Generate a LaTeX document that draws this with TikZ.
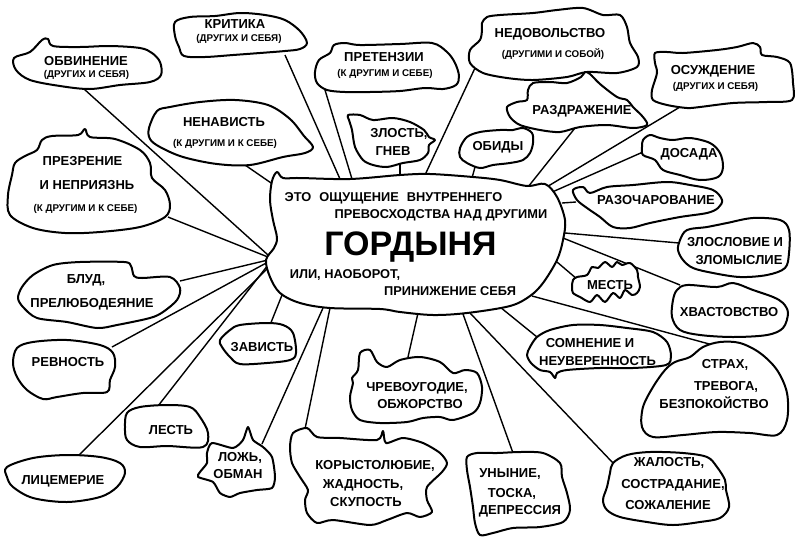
\documentclass[tikz,border=0pt]{standalone}
\usepackage{fontspec}
\setmainfont{Liberation Sans}
\begin{document}
\begin{tikzpicture}[x=1pt,y=-1pt,
  blob/.style={draw=black, line width=2pt, fill=white, line join=round},
  link/.style={draw=black, line width=1.4pt},
  t/.style={font=\bfseries\fontsize{13}{15}\selectfont, inner sep=0pt, anchor=base},
  s/.style={font=\bfseries\fontsize{9.8}{12}\selectfont, inner sep=0pt, anchor=base},
  hd/.style={font=\bfseries\fontsize{12.8}{15}\selectfont, inner sep=0pt, anchor=base},
  big/.style={font=\bfseries\fontsize{34}{40}\selectfont, inner sep=0pt, anchor=base}]
\useasboundingbox (0,0) rectangle (800,544);
\fill[white] (0,0) rectangle (800,544);

% ---------- connector end points ----------
\coordinate (obv-e) at (84,89);   \coordinate (obv-c) at (268,255);
\coordinate (krit-e) at (285,55); \coordinate (krit-c) at (340,179);
\coordinate (pret-e) at (325,90); \coordinate (pret-c) at (352,179);
\coordinate (nen-e) at (245,165); \coordinate (nen-c) at (274,185);
\coordinate (zlo-e) at (400,164); \coordinate (zlo-c) at (400,176);
\coordinate (ned-e) at (475,68);  \coordinate (ned-c) at (425,175);
\coordinate (obid-e) at (475,167); \coordinate (obid-c) at (472,178);
\coordinate (razd-e) at (575,128); \coordinate (razd-c) at (528,187);
\coordinate (osu-e) at (680,107); \coordinate (osu-c) at (545,188);
\coordinate (dos-e) at (643,152); \coordinate (dos-c) at (550,193);
\coordinate (razo-e) at (576,202); \coordinate (razo-c) at (562,203);
\coordinate (zlosl-e) at (679,243); \coordinate (zlosl-c) at (565,233);
\coordinate (hvast-e) at (680,285); \coordinate (hvast-c) at (563,238);
\coordinate (mest-e) at (577,279); \coordinate (mest-c) at (557,262);
\coordinate (strah-e) at (713,345); \coordinate (strah-c) at (532,296);
\coordinate (somn-e) at (537,337); \coordinate (somn-c) at (500,307);
\coordinate (zhal-e) at (613,463); \coordinate (zhal-c) at (470,313);
\coordinate (uny-e) at (513,453); \coordinate (uny-c) at (463,314);
\coordinate (chrev-e) at (408,357); \coordinate (chrev-c) at (418,313);
\coordinate (kor-e) at (305,429); \coordinate (kor-c) at (330,308);
\coordinate (lozh-e) at (262,444); \coordinate (lozh-c) at (323,308);
\coordinate (zav-e) at (270,325); \coordinate (zav-c) at (282,295);
\coordinate (lic-e) at (78,456);  \coordinate (lic-c) at (268,268);
\coordinate (lest-e) at (158,406); \coordinate (lest-c) at (268,265);
\coordinate (revn-e) at (112,347); \coordinate (revn-c) at (268,262);
\coordinate (blud-e) at (180,281); \coordinate (blud-c) at (268,260);
\coordinate (prez-e) at (168,217); \coordinate (prez-c) at (268,257);

\foreach \n in {obv,krit,pret,nen,zlo,ned,obid,razd,osu,dos,razo,zlosl,hvast,mest,strah,somn,zhal,uny,chrev,kor,lozh,zav,lic,lest,revn,blud,prez}
  \draw[link] (\n-e) -- (\n-c);

% ---------- blobs ----------
% centre
\draw[blob] plot[smooth cycle, tension=0.55] coordinates {(270,200) (272,181) (277,172) (283,178) (300,178) (350,179) (400,175) (430,174) (473,177) (500,180) (527,186) (545,184) (557,197) (565,220) (563,240) (557,260) (543,283) (530,296) (510,306) (467,313) (433,315) (400,312) (380,309) (330,308) (300,303) (280,293) (270,277) (266,260) (274,248) (277,238) (273,220)};
% obvinenie
\draw[blob] plot[smooth cycle, tension=0.55] coordinates {(14,58) (30,52) (42,40) (48,39) (53,46) (80,47) (110,46) (140,48) (152,53) (160,62) (161,75) (150,82) (120,85) (90,89) (60,86) (30,80) (16,70)};
% kritika
\draw[blob] plot[smooth cycle, tension=0.55] coordinates {(175,22) (190,17) (215,16) (240,13) (265,15) (285,20) (300,31) (307,43) (300,49) (285,51) (260,53) (233,55) (205,57) (184,56) (179,47) (175,36)};
% pretenzii
\draw[blob] plot[smooth cycle, tension=0.55] coordinates {(315,72) (319,60) (330,53) (334,45) (345,43) (360,45) (400,44) (432,43) (447,52) (455,63) (459,76) (456,85) (443,89) (425,88) (400,91) (370,92) (345,92) (327,90) (317,83)};
% nenavist
\draw[blob] plot[smooth cycle, tension=0.55] coordinates {(149,128) (157,111) (170,107) (200,102) (235,100) (268,105) (290,119) (304,136) (313,147) (305,153) (283,157) (250,165) (217,164) (183,157) (160,147) (150,139)};
% prezrenie
\draw[blob] plot[smooth cycle, tension=0.55] coordinates {(12,175) (15,163) (25,156) (37,150) (42,140) (52,136) (78,135) (85,129) (90,137) (115,139) (140,150) (150,163) (152,178) (165,190) (170,205) (165,217) (140,227) (100,232) (65,233) (33,228) (10,215) (8,195)};
% blud
\draw[blob] plot[smooth cycle, tension=0.5] coordinates {(18,298) (22,287) (33,275) (53,265) (80,262) (124,262) (131,266) (134,276) (142,278) (170,277) (180,288) (177,300) (163,312) (150,318) (117,325) (97,328) (67,322) (37,318) (23,307)};
% revnost
\draw[blob] plot[smooth cycle, tension=0.55] coordinates {(17,348) (33,342) (67,340) (100,345) (113,353) (115,367) (110,380) (107,392) (83,393) (57,397) (43,399) (27,390) (17,377) (13,363)};
% lest
\draw[blob] plot[smooth cycle, tension=0.55] coordinates {(127,413) (140,407) (167,405) (190,407) (200,417) (208,433) (203,447) (167,446) (140,447) (127,440) (125,427)};
% licemerie
\draw[blob] plot[smooth cycle, tension=0.55] coordinates {(7,467) (33,458) (67,455) (100,457) (120,463) (125,473) (117,487) (100,497) (67,502) (33,498) (13,487) (7,477)};
% zavist
\draw[blob] plot[smooth cycle, tension=0.55] coordinates {(220,340) (230,330) (240,325) (267,323) (283,325) (293,333) (296,353) (290,360) (267,363) (240,364) (230,357) (222,347)};
% lozh
\draw[blob] plot[smooth cycle, tension=0.4] coordinates {(207,453) (212,443) (233,448) (243,440) (248,427) (253,440) (263,447) (272,457) (275,477) (272,488) (257,490) (240,493) (230,497) (220,493) (213,482) (198,477) (200,472) (207,463)};
% korystolubie
\draw[blob] plot[smooth cycle, tension=0.45] coordinates {(293,433) (307,428) (317,437) (340,438) (377,440) (383,431) (386,443) (403,438) (423,443) (440,453) (447,463) (442,472) (427,487) (427,500) (432,512) (420,517) (407,513) (387,520) (370,525) (333,520) (317,523) (307,513) (305,500) (308,490) (300,477) (292,463) (290,447)};
% chrevougodie
\draw[blob] plot[smooth cycle, tension=0.5] coordinates {(360,353) (370,350) (377,362) (387,367) (400,360) (420,357) (440,362) (453,373) (465,370) (477,373) (482,387) (480,403) (473,413) (453,420) (440,417) (423,418) (407,422) (380,423) (360,420) (352,410) (350,397) (353,383) (352,378) (358,370)};
% unynie
\draw[blob] plot[smooth cycle, tension=0.5] coordinates {(467,457) (477,453) (497,453) (520,452) (543,453) (560,463) (562,477) (567,493) (570,510) (563,522) (540,527) (513,528) (493,533) (480,535) (475,523) (473,507) (470,487) (467,470)};
% zhalost
\draw[blob] plot[smooth cycle, tension=0.55] coordinates {(613,463) (627,455) (650,452) (683,453) (707,457) (717,467) (725,480) (726,490) (729,507) (720,518) (700,522) (673,525) (647,522) (620,517) (607,510) (603,500) (607,487) (610,473)};
% somnenie
\draw[blob] plot[smooth cycle, tension=0.5] coordinates {(530,347) (537,337) (550,330) (573,325) (600,325) (627,328) (653,332) (667,342) (671,356) (666,365) (633,368) (600,368) (567,370) (557,373) (555,378) (550,372) (540,370) (531,363) (527,355)};
% strah
\draw[blob] plot[smooth cycle, tension=0.55] coordinates {(675,362) (690,357) (703,347) (720,342) (740,343) (760,353) (777,370) (787,393) (787,420) (777,435) (750,433) (717,432) (683,435) (653,437) (642,427) (643,407) (653,387) (665,370)};
% hvastovstvo
\draw[blob] plot[smooth cycle, tension=0.55] coordinates {(677,290) (687,285) (717,287) (733,283) (753,290) (773,297) (783,303) (788,313) (783,328) (767,335) (733,337) (700,335) (680,330) (672,317) (673,300)};
% zloslovie
\draw[blob] plot[smooth cycle, tension=0.55] coordinates {(680,240) (687,230) (707,227) (727,223) (753,218) (780,220) (789,230) (789,253) (785,268) (767,275) (740,277) (713,273) (693,268) (683,260) (678,250)};
% mest
\draw[blob] plot[smooth cycle, tension=0.5] coordinates {(573,280) (577,277) (587,275) (592,267) (598,268) (605,262) (612,267) (617,262) (622,265) (630,263) (637,270) (638,277) (640,287) (637,293) (632,295) (625,290) (620,298) (613,293) (605,302) (597,295) (590,302) (580,297) (573,293) (572,287)};
% razocharovanie
\draw[blob] plot[smooth cycle, tension=0.55] coordinates {(573,190) (583,187) (590,193) (607,187) (633,185) (667,182) (690,185) (713,190) (722,200) (718,208) (707,213) (680,217) (650,223) (630,228) (613,227) (600,217) (587,208) (577,200)};
% dosada
\draw[blob] plot[smooth cycle, tension=0.55] coordinates {(643,140) (650,135) (660,138) (673,140) (690,138) (710,143) (720,153) (723,167) (718,177) (700,180) (680,175) (663,170) (655,160) (643,155) (642,147)};
% osuzhdenie
\draw[blob] plot[smooth cycle, tension=0.5] coordinates {(655,53) (667,52) (683,53) (717,50) (737,47) (753,43) (760,47) (762,55) (777,57) (790,63) (793,83) (792,100) (767,102) (733,103) (700,107) (687,108) (667,105) (653,100) (652,90) (657,73) (655,63)};
% nedovolstvo
\draw[blob] plot[smooth cycle, tension=0.5] coordinates {(482,23) (487,17) (500,15) (533,13) (557,10) (583,8) (603,15) (620,15) (627,27) (630,43) (638,57) (637,67) (617,73) (587,72) (567,77) (533,80) (507,78) (483,73) (470,63) (470,50) (480,40) (482,30)};
% razdrazhenie
\draw[blob] plot[smooth cycle, tension=0.5] coordinates {(507,107) (517,102) (527,100) (528,90) (533,83) (550,82) (567,83) (581,77) (585,72) (590,74) (600,84) (617,97) (627,100) (633,107) (643,117) (647,125) (633,128) (607,125) (580,127) (560,132) (540,130) (520,125) (510,117)};
% obidy
\draw[blob] plot[smooth cycle, tension=0.55] coordinates {(460,148) (467,137) (480,132) (500,130) (513,130) (523,128) (532,133) (533,143) (530,153) (523,160) (510,163) (493,165) (480,168) (467,163) (460,157)};
% zlost
\draw[blob] plot[smooth cycle, tension=0.5] coordinates {(348,115) (360,115) (373,120) (393,118) (410,122) (424,130) (429,137) (435,140) (429,145) (428,153) (420,160) (403,163) (387,167) (373,165) (363,160) (355,147) (352,130) (349,120)};

% ---------- texts ----------
\node[hd] (c1) at (393.5,201.5) {ЭТО\hspace{0.35em} ОЩУЩЕНИЕ\hspace{0.35em} ВНУТРЕННЕГО};
\node[hd] (c2) at (441,218) {ПРЕВОСХОДСТВА НАД ДРУГИМИ};
\node[big] (gord) at (410.5,255.5) {ГОРДЫНЯ};
\node[hd] (c3) at (345,278.5) {ИЛИ, НАОБОРОТ,};
\node[hd] (c4) at (450,295) {ПРИНИЖЕНИЕ СЕБЯ};

\node[t] (obv) at (86,65) {ОБВИНЕНИЕ};
\node[s] (obv2) at (86.5,77.5) {(ДРУГИХ И СЕБЯ)};
\node[t] (krit) at (235,28) {КРИТИКА};
\node[s] (krit2) at (239,41.5) {(ДРУГИХ И СЕБЯ)};
\node[t] (pret) at (384,61) {ПРЕТЕНЗИИ};
\node[s] (pret2) at (385,76.5) {(К ДРУГИМ И СЕБЕ)};
\node[t] (nen) at (224,126) {НЕНАВИСТЬ};
\node[s] (nen2) at (225,146.5) {(К ДРУГИМ И К СЕБЕ)};
\node[t] (prez) at (82.5,165) {ПРЕЗРЕНИЕ};
\node[t] (prez2) at (87,189) {И НЕПРИЯЗНЬ};
\node[s] (prez3) at (85.5,211.5) {(К ДРУГИМ И К СЕБЕ)};
\node[t] (blud) at (86,283) {БЛУД,};
\node[t] (blud2) at (92,307) {ПРЕЛЮБОДЕЯНИЕ};
\node[t] (revn) at (68,366) {РЕВНОСТЬ};
\node[t] (lest) at (171,434) {ЛЕСТЬ};
\node[t] (lic) at (63,484) {ЛИЦЕМЕРИЕ};
\node[t] (zav) at (262,351) {ЗАВИСТЬ};
\node[t] (lozh) at (240,461) {ЛОЖЬ,};
\node[t] (lozh2) at (238,478) {ОБМАН};
\node[t] (kor) at (375,469) {КОРЫСТОЛЮБИЕ,};
\node[t] (kor2) at (363,488) {ЖАДНОСТЬ,};
\node[t] (kor3) at (366,506) {СКУПОСТЬ};
\node[t] (chrev) at (417,391) {ЧРЕВОУГОДИЕ,};
\node[t] (chrev2) at (420,408) {ОБЖОРСТВО};
\node[t] (uny) at (510,477) {УНЫНИЕ,};
\node[t] (uny2) at (512,497) {ТОСКА,};
\node[t] (uny3) at (520,514) {ДЕПРЕССИЯ};
\node[t] (zhal) at (669,466.5) {ЖАЛОСТЬ,};
\node[t] (zhal2) at (673,488) {СОСТРАДАНИЕ,};
\node[t] (zhal3) at (668,509) {СОЖАЛЕНИЕ};
\node[t] (somn) at (590,347) {СОМНЕНИЕ И};
\node[t] (somn2) at (597.5,365.5) {НЕУВЕРЕННОСТЬ};
\node[t] (strah) at (725,368) {СТРАХ,};
\node[t] (strah2) at (726,390) {ТРЕВОГА,};
\node[t] (strah3) at (714,408) {БЕЗПОКОЙСТВО};
\node[t] (hvast) at (729,316.5) {ХВАСТОВСТВО};
\node[t] (zlosl) at (735,246) {ЗЛОСЛОВИЕ И};
\node[t] (zlosl2) at (739,264) {ЗЛОМЫСЛИЕ};
\node[t] (mest) at (610,289) {МЕСТЬ};
\node[t] (razo) at (656,204) {РАЗОЧАРОВАНИЕ};
\node[t] (dos) at (689,157) {ДОСАДА};
\node[t] (osu) at (713,74.5) {ОСУЖДЕНИЕ};
\node[s] (osu2) at (715.5,89) {(ДРУГИХ И СЕБЯ)};
\node[t] (ned) at (550,37.5) {НЕДОВОЛЬСТВО};
\node[s] (ned2) at (553,57) {(ДРУГИМИ И СОБОЙ)};
\node[t] (razd) at (582,114) {РАЗДРАЖЕНИЕ};
\node[t] (obid) at (498,150) {ОБИДЫ};
\node[t] (zlo) at (399,137.5) {ЗЛОСТЬ,};
\node[t] (zlo2) at (393,155) {ГНЕВ};
\end{tikzpicture}
\end{document}
